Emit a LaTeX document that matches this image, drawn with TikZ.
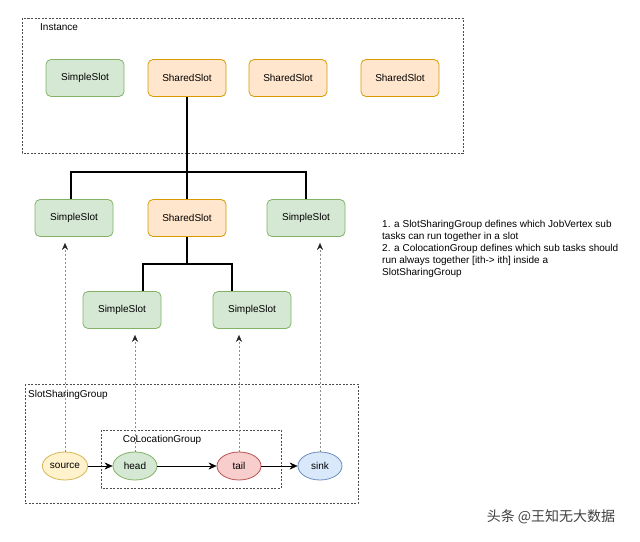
\documentclass[tikz,border=0pt]{standalone}
\usepackage{fontspec}
\setmainfont{Liberation Sans}
\newfontfamily\cjk{Noto Sans CJK SC}
\usetikzlibrary{arrows.meta,shapes.geometric}
\definecolor{greenfill}{HTML}{D5E8D4}
\definecolor{greenline}{HTML}{82B366}
\definecolor{orangefill}{HTML}{FFE6CC}
\definecolor{orangeline}{HTML}{D79B00}
\definecolor{yellowfill}{HTML}{FFF2CC}
\definecolor{yellowline}{HTML}{D6B656}
\definecolor{redfill}{HTML}{F8CECC}
\definecolor{redline}{HTML}{B85450}
\definecolor{bluefill}{HTML}{DAE8FC}
\definecolor{blueline}{HTML}{6C8EBF}
\begin{document}
\begin{tikzpicture}[x=1pt,y=-1pt,font=\fontsize{10}{12}\selectfont,
  slot/.style={rounded corners=5pt,minimum width=78pt,minimum height=37pt,line width=0.8pt},
  simple/.style={slot,fill=greenfill,draw=greenline},
  shared/.style={slot,fill=orangefill,draw=orangeline},
  op/.style={ellipse,minimum width=44pt,minimum height=28pt,inner sep=1pt,line width=0.8pt},
  group/.style={draw=black!70,dash pattern=on 2pt off 1.5pt,line width=0.8pt},
  tree/.style={line width=1.6pt},
  link/.style={draw=black!45,dash pattern=on 2pt off 2pt,shorten >=6pt,
    -{Stealth[length=7pt,width=6pt,black!85]}},
  flow/.style={-{Stealth[length=8pt,width=7pt]}}]
\useasboundingbox (0,0) rectangle (640,541);
\draw[group] (22,18) rectangle (463,153);
\node (inst) at (40,27) [anchor=west,inner sep=0]{Instance};
\draw[group] (25,384) rectangle (358,503);
\node (ssg) at (28,395) [anchor=west,inner sep=0]{SlotSharingGroup};
\draw[group] (101,430) rectangle (281,488);
\node (clg) at (162,440) {CoLocationGroup};
\node (s11) at (85,78) [simple]{SimpleSlot};
\node (sh1) at (187,78) [shared]{SharedSlot};
\node (sh3) at (288,78) [shared]{SharedSlot};
\node (sh4) at (400,78) [shared]{SharedSlot};
\node (s21) at (74,218) [simple]{SimpleSlot};
\node (sh2) at (187,218) [shared]{SharedSlot};
\node (s23) at (306,218) [simple]{SimpleSlot};
\node (s31) at (122,310) [simple]{SimpleSlot};
\node (s32) at (252,310) [simple]{SimpleSlot};
\coordinate (jn1) at (187,172);
\coordinate (jn2) at (187,264);
\draw[tree] (sh1.south) -- (sh2.north);
\draw[tree] ([xshift=-3pt]s21.north) |- (jn1) -| (s23.north);
\draw[tree] (sh2.south) -- (jn2);
\draw[tree] ([xshift=21pt]s31.north) |- (jn2) -| ([xshift=-20pt]s32.north);
\node (src) at (65,466) [op,fill=yellowfill,draw=yellowline]{source};
\node (head) at (135,466) [op,fill=greenfill,draw=greenline]{head};
\node (tail) at (239,466) [op,fill=redfill,draw=redline]{tail};
\node (sink) at (320,466) [op,fill=bluefill,draw=blueline]{sink};
\draw[flow] (src) -- (head);
\draw[flow] (head) -- (tail);
\draw[flow] (tail) -- (sink);
\draw[link] (src.north) -- (src.north |- s21.south);
\draw[link] (head.north) -- (head.north |- s31.south);
\draw[link] (tail.north) -- (tail.north |- s32.south);
\draw[link] (sink.north) -- (sink.north |- s23.south);
\node (note) at (382,220) [anchor=north west,inner sep=0,align=left]{1. a SlotSharingGroup defines which JobVertex sub\\
tasks can run together in a slot\\
2. a ColocationGroup defines which sub tasks should\\
run always together [ith-> ith] inside a\\
SlotSharingGroup};
\node (mark) at (551,517) [text=black!75,font=\cjk\fontsize{14}{16}\selectfont]{头条 @王知无大数据};
\end{tikzpicture}
\end{document}
